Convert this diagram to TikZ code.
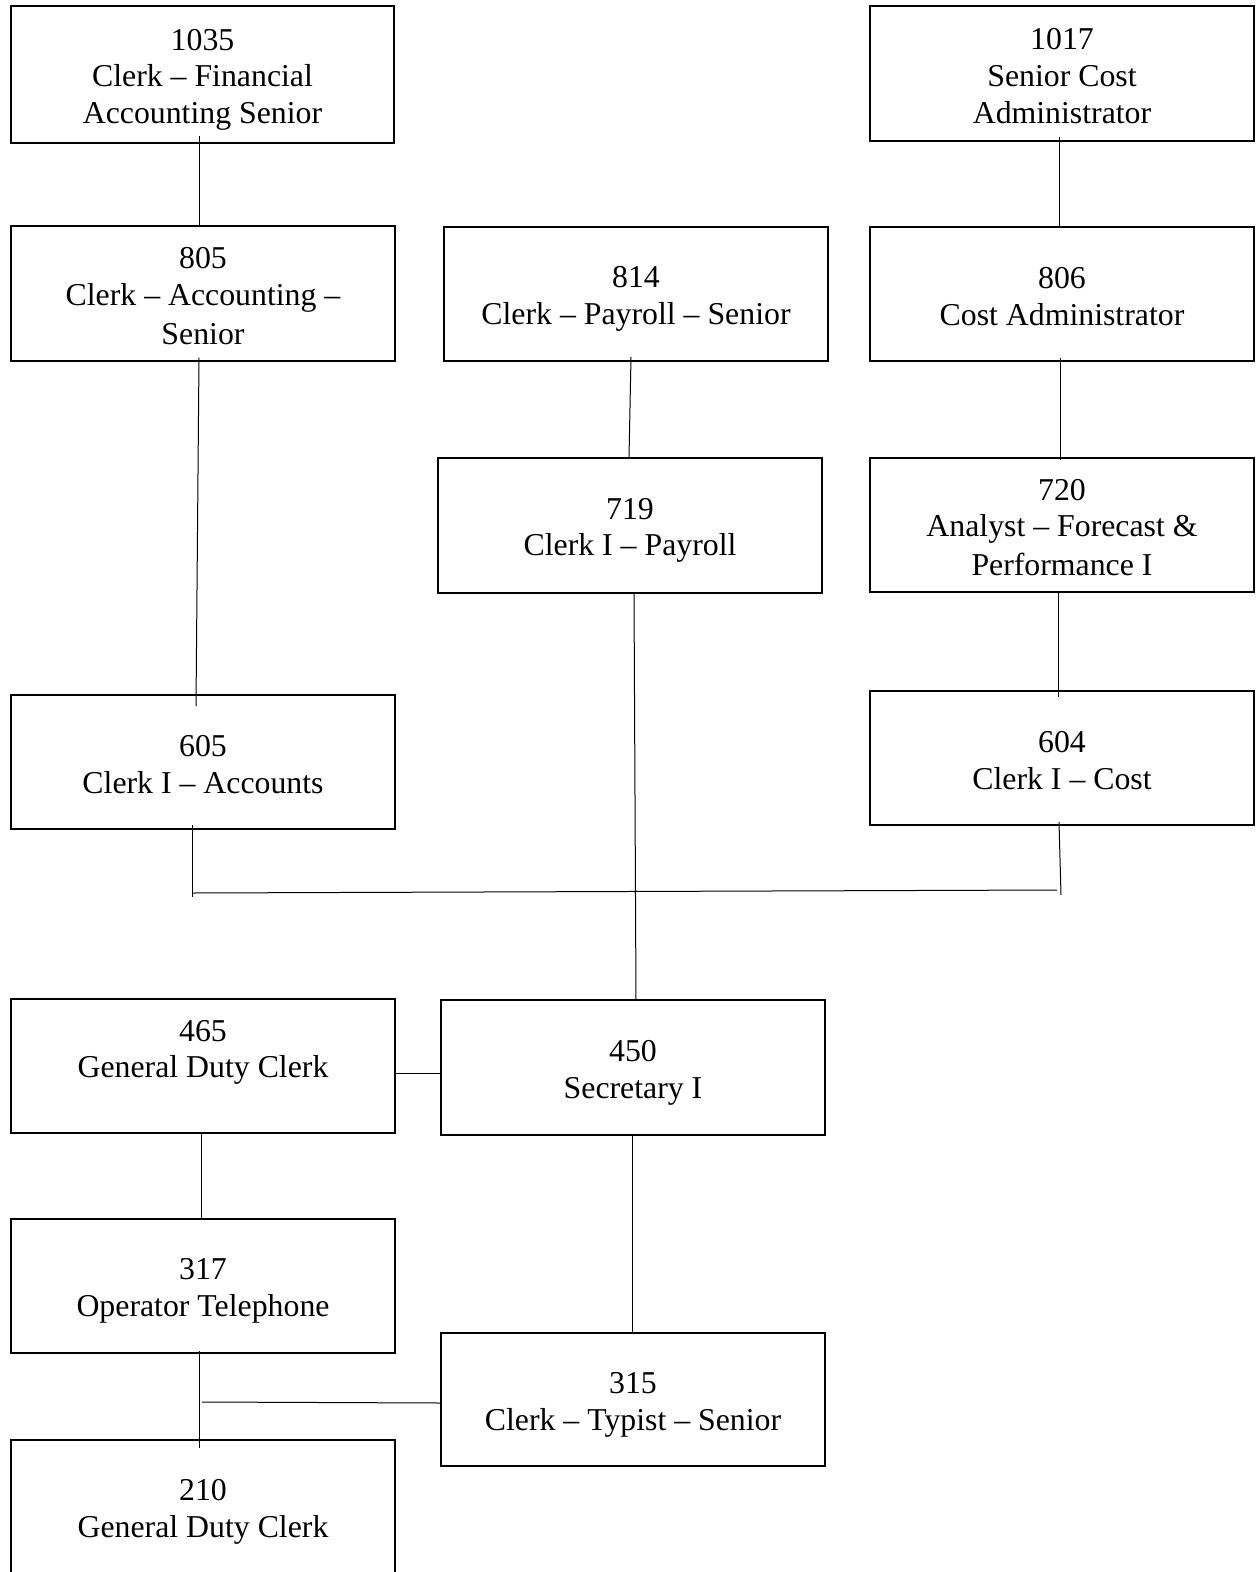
\documentclass[tikz,border=0pt]{standalone}
\usepackage{fontspec}
\setmainfont{Liberation Serif}
\usetikzlibrary{calc}
% fixed line box so every line has the same height and depth
\newcommand\ls{\rule[-5.3pt]{0pt}{36.57pt}}
\tikzset{
  post/.style={draw, line width=2.6pt, fill=white, inner sep=0pt, outer sep=0pt,
    minimum width=384pt, minimum height=134pt, align=center,
    font=\fontsize{31.8pt}{36.57pt}\selectfont},
  link/.style={draw, line width=1pt}
}
\begin{document}
\begin{tikzpicture}[x=1pt,y=-1pt]
\fill[white] (0,0) rectangle (1256,1572);
\useasboundingbox (0,0) rectangle (1256,1572);

% positions
\node[post, minimum width=383pt, minimum height=137pt] (b1035) at (202.5,74.5)
  {\ls 1035\\\ls Clerk – Financial\\\ls Accounting Senior};
\node[post, minimum height=135pt] (b1017) at (1062,73.5)
  {\ls 1017\\\ls Senior Cost\\\ls Administrator};
\node[post, minimum height=135pt] (b805) at (203,293.5)
  {\ls 805\\\ls Clerk – Accounting –\\\ls Senior};
\node[post] (b814) at (636,294)
  {\ls 814\\\ls Clerk – Payroll – Senior};
\node[post] (b806) at (1062,294)
  {\ls 806\\\ls Cost Administrator};
\node[post, minimum height=135pt] (b719) at (630,525.5)
  {\ls 719\\\ls Clerk I – Payroll};
\node[post] (b720) at (1062,525)
  {\ls 720\\\ls Analyst – Forecast \&\\\ls Performance I};
\node[post] (b605) at (203,762)
  {\ls 605\\\ls Clerk I – Accounts};
\node[post] (b604) at (1062,758)
  {\ls 604\\\ls Clerk I – Cost};
\node[post] (b465) at (203,1066)
  {\ls 465\\\ls General Duty Clerk\\\ls};
\node[post, minimum height=135pt] (b450) at (633,1067.5)
  {\ls 450\\\ls Secretary I};
\node[post] (b317) at (203,1286)
  {\ls 317\\\ls Operator Telephone};
\node[post, minimum height=133pt] (b315) at (633,1399.5)
  {\ls 315\\\ls Clerk – Typist – Senior};
\node[post] (b210) at (203,1507)
  {\ls 210\\\ls General Duty Clerk};

% free ends of the shared lines
\coordinate (d605) at (192,897);
\coordinate (busL) at (192,893);
\coordinate (busR) at (1057,890);
\coordinate (d604) at (1061,895);
\coordinate (j317) at (202,1402);

% reporting lines
\draw[link] ($(b1035.south)+(-3.5,-7)$) -- ($(b805.north)+(-4,0)$);
\draw[link] ($(b1017.south)+(-3,-4)$) -- ($(b806.north)+(-3,1)$);
\draw[link] ($(b805.south)+(-4,-3.5)$) -- ($(b605.north)+(-7,11)$);
\draw[link] ($(b814.south)+(-5,-4)$) -- ($(b719.north)+(-1,0)$);
\draw[link] ($(b806.south)+(-2,-3)$) -- ($(b720.north)+(-2,2)$);
\draw[link] ($(b720.south)+(-4,-1)$) -- ($(b604.north)+(-4,6)$);
\draw[link] ($(b719.south)+(4,0)$) -- ($(b450.north)+(3,0)$);
\draw[link] ($(b605.south)+(-11,-4)$) -- (d605);
\draw[link] ($(b604.south)+(-3,-3)$) -- (d604);
\draw[link] (busL) -- (busR);
\draw[link] ($(b465.east)+(0,7)$) -- ($(b450.west)+(0,5.5)$);
\draw[link] ($(b465.south)+(-2,0)$) -- ($(b317.north)+(-2,0)$);
\draw[link] ($(b450.south)+(-1,0)$) -- ($(b315.north)+(-1,0)$);
\draw[link] ($(b317.south)+(-4,-2)$) -- ($(b210.north)+(-4,8)$);
\draw[link] (j317) -- ($(b315.west)+(0,3.5)$);
\end{tikzpicture}
\end{document}
